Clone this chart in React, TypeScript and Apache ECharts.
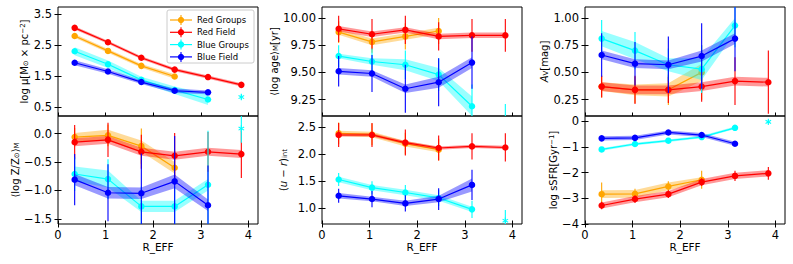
import React, { useEffect, useRef } from 'react';
import * as echarts from 'echarts';

// ---------------- data ----------------
const R_EFF = [0.35, 1.05, 1.75, 2.45, 3.15, 3.85];
const STAR_R = 3.85;
const GROUPS = ['Red Groups', 'Red Field', 'Blue Groups', 'Blue Field'];
const COLORS = ['#ffa500', '#ff0000', '#00ffff', '#0000ff'];
const X_TICKS = [0, 1, 2, 3, 4];

// log mu [Msun pc^-2]  (order: Red Groups, Red Field, Blue Groups, Blue Field)
const muValues = [
  [2.79, 2.31, 1.83, 1.49],
  [3.05, 2.59, 2.09, 1.71, 1.47, 1.22],
  [2.3, 1.88, 1.38, 1.05, 0.75],
  [1.93, 1.65, 1.31, 1.03, 0.98],
];
const muErrors = [
  [0.04, 0.04, 0.04, 0.05],
  [0.04, 0.04, 0.04, 0.04, 0.04, 0.05],
  [0.05, 0.05, 0.05, 0.06, 0.08],
  [0.04, 0.04, 0.04, 0.05, 0.05],
];
const muBands = [
  [0.06, 0.06, 0.06, 0.07],
  [0.05, 0.05, 0.05, 0.05, 0.05, 0.05],
  [0.13, 0.12, 0.1, 0.12, 0.18],
  [0.08, 0.07, 0.06, 0.07, 0.06],
];
const muStar = [0.83, 0.08];
const muTicks = [0.5, 1.5, 2.5, 3.5];

// <log age>_M [yr]
const ageValues = [
  [9.87, 9.78, 9.83, 9.88],
  [9.9, 9.85, 9.89, 9.83, 9.84, 9.84],
  [9.65, 9.6, 9.57, 9.48, 9.19],
  [9.51, 9.49, 9.35, 9.41, 9.59],
];
const ageErrors = [
  [0.1, 0.1, 0.12, 0.12],
  [0.12, 0.14, 0.13, 0.13, 0.15, 0.15],
  [0.1, 0.12, 0.13, 0.15, 0.2],
  [0.14, 0.17, 0.22, 0.22, 0.24],
];
const ageBands = [
  [0.025, 0.03, 0.03, 0.03],
  [0.025, 0.025, 0.025, 0.025, 0.025, 0.025],
  [0.02, 0.03, 0.05, 0.06, 0.09],
  [0.03, 0.03, 0.04, 0.05, 0.05],
];
const ageStar = [9.0, 0.21];
const ageTicks = [9.25, 9.5, 9.75, 10.0];

// A_V [mag]
const avValues = [
  [0.37, 0.34, 0.34, 0.5],
  [0.37, 0.34, 0.34, 0.37, 0.42, 0.41],
  [0.81, 0.7, 0.57, 0.53, 0.93],
  [0.66, 0.58, 0.57, 0.65, 0.81],
];
const avErrors = [
  [0.1, 0.12, 0.14, 0.25],
  [0.1, 0.13, 0.12, 0.14, 0.22, 0.29],
  [0.17, 0.17, 0.15, 0.22, 0.2],
  [0.2, 0.2, 0.26, 0.3, 0.3],
];
const avBands = [
  [0.04, 0.05, 0.06, 0.08],
  [0.04, 0.04, 0.04, 0.04, 0.04, 0.04],
  [0.07, 0.08, 0.06, 0.1, 0.07],
  [0.04, 0.04, 0.04, 0.05, 0.05],
];
const avTicks = [0.25, 0.5, 0.75, 1.0];

// <log Z/Zsun>_M
const zValues = [
  [-0.06, -0.03, -0.22, -0.6],
  [-0.15, -0.11, -0.32, -0.39, -0.32, -0.36],
  [-0.71, -0.8, -1.28, -1.28, -0.9],
  [-0.81, -1.04, -1.05, -0.84, -1.26],
];
const zErrors = [
  [0.16, 0.19, 0.31, 0.3],
  [0.3, 0.3, 0.3, 0.4, 0.35, 0.42],
  [0.3, 0.35, 0.35, 0.35, 0.95],
  [0.45, 0.5, 0.7, 0.8, 0.7],
];
const zBands = [
  [0.07, 0.1, 0.1, 0.1],
  [0.07, 0.07, 0.07, 0.07, 0.07, 0.07],
  [0.13, 0.15, 0.1, 0.1, 0.1],
  [0.1, 0.1, 0.1, 0.12, 0.1],
];
const zStar = [0.09, 0.25];
const zTicks = [-1.5, -1.0, -0.5, 0.0];

// (u - r)_int
const urValues = [
  [2.38, 2.36, 2.19, 2.08],
  [2.35, 2.35, 2.21, 2.11, 2.14, 2.12],
  [1.53, 1.38, 1.29, 1.19, 0.98],
  [1.23, 1.17, 1.09, 1.17, 1.43],
];
const urErrors = [
  [0.2, 0.2, 0.2, 0.2],
  [0.22, 0.22, 0.24, 0.23, 0.24, 0.26],
  [0.12, 0.12, 0.14, 0.15, 0.16],
  [0.13, 0.15, 0.15, 0.2, 0.28],
];
const urBands = [
  [0.05, 0.05, 0.05, 0.05],
  [0.03, 0.03, 0.03, 0.03, 0.03, 0.03],
  [0.05, 0.05, 0.05, 0.05, 0.05],
  [0.05, 0.04, 0.05, 0.06, 0.12],
];
const urStar = [0.77, 0.2];
const urTicks = [1.0, 1.5, 2.0, 2.5];

// log sSFR [Gyr^-1]
const ssfrValues = [
  [-2.84, -2.83, -2.54, -2.28],
  [-3.28, -3.03, -2.84, -2.37, -2.13, -2.03],
  [-1.1, -0.89, -0.76, -0.62, -0.26],
  [-0.67, -0.65, -0.44, -0.54, -0.88],
];
const ssfrErrors = [
  [0.45, 0.2, 0.2, 0.35],
  [0.15, 0.15, 0.15, 0.15, 0.2, 0.25],
  [0.05, 0.05, 0.05, 0.05, 0.05],
  [0.05, 0.05, 0.05, 0.05, 0.05],
];
const ssfrBands = [
  [0.15, 0.15, 0.15, 0.1],
  [0.12, 0.12, 0.12, 0.12, 0.12, 0.12],
  [0.05, 0.05, 0.05, 0.05, 0.05],
  [0.08, 0.08, 0.08, 0.08, 0.08],
];
const ssfrStar = [-0.03, 0.06];
const ssfrTicks = [-4, -3, -2, -1, 0];

// ---------------- chart ----------------
const FONT = 'DejaVu Sans';

const RICH = {
  sub: { fontSize: 7, fontFamily: FONT, color: '#000', verticalAlign: 'bottom' },
  sup: { fontSize: 7, fontFamily: FONT, color: '#000', verticalAlign: 'top' },
  it: { fontSize: 10, fontFamily: FONT, color: '#000', fontStyle: 'italic' },
};

type Panel = {
  values: number[][];
  errors: number[][];
  bands: number[][];
  star: number[] | null;
  yMin: number;
  yMax: number;
  ticks: number[];
  dec: number;
  name: string;
  nameGap: number;
  left: number;
  top: number;
  bottomRow: boolean;
};

const COL_LEFT = [58, 322, 585];
const ROW_TOP = [7, 116];
const W = 200;
const H = [109, 108];

const panels: Panel[] = [
  { values: muValues, errors: muErrors, bands: muBands, star: muStar, yMin: 0.22, yMax: 3.72, ticks: muTicks, dec: 1,
    name: 'log μ[M{sub|⊙} × pc{sup|−2}]', nameGap: 28, left: COL_LEFT[0], top: ROW_TOP[0], bottomRow: false },
  { values: ageValues, errors: ageErrors, bands: ageBands, star: ageStar, yMin: 9.1, yMax: 10.1, ticks: ageTicks, dec: 2,
    name: '⟨log age⟩{sub|M}[yr]', nameGap: 35, left: COL_LEFT[1], top: ROW_TOP[0], bottomRow: false },
  { values: avValues, errors: avErrors, bands: avBands, star: null, yMin: 0.1, yMax: 1.1, ticks: avTicks, dec: 2,
    name: '{it|A}{sub|V}[mag]', nameGap: 25, left: COL_LEFT[2], top: ROW_TOP[0], bottomRow: false },
  { values: zValues, errors: zErrors, bands: zBands, star: zStar, yMin: -1.59, yMax: 0.31, ticks: zTicks, dec: 1,
    name: '⟨log Z/Z{sub|⊙}⟩{sub|M}', nameGap: 38, left: COL_LEFT[0], top: ROW_TOP[1], bottomRow: true },
  { values: urValues, errors: urErrors, bands: urBands, star: urStar, yMin: 0.71, yMax: 2.7, ticks: urTicks, dec: 1,
    name: '({it|u} − {it|r}){sub|int}', nameGap: 34, left: COL_LEFT[1], top: ROW_TOP[1], bottomRow: true },
  { values: ssfrValues, errors: ssfrErrors, bands: ssfrBands, star: ssfrStar, yMin: -4, yMax: 0.2, ticks: ssfrTicks, dec: 0,
    name: 'log sSFR[Gyr{sup|−1}]', nameGap: 25, left: COL_LEFT[2], top: ROW_TOP[1], bottomRow: true },
];

function fmt(v: number, dec: number) {
  const s = Math.abs(v).toFixed(dec);
  return (v < 0 && Math.abs(v) > 1e-9 ? '−' : '') + s;
}

function hexAlpha(hex: string, a: number) {
  const r = parseInt(hex.slice(1, 3), 16);
  const g = parseInt(hex.slice(3, 5), 16);
  const b = parseInt(hex.slice(5, 7), 16);
  return `rgba(${r},${g},${b},${a})`;
}

function buildOption() {
  const grid: any[] = [];
  const xAxis: any[] = [];
  const yAxis: any[] = [];
  const series: any[] = [];
  const tickStyle = { color: '#000', width: 1 };
  const labelStyle = { fontSize: 11.5, fontFamily: FONT, color: '#000' };

  panels.forEach((p, k) => {
    grid.push({
      left: p.left, top: p.top, width: W, height: p.bottomRow ? H[1] : H[0],
      show: true, borderColor: '#000', borderWidth: 1, backgroundColor: 'transparent', containLabel: false,
    });
    xAxis.push({
      gridIndex: k, type: 'value', min: 0, max: 4.2, position: 'bottom',
      offset: p.bottomRow ? -3.5 : 0,
      axisLine: { show: false, onZero: false }, splitLine: { show: false },
      axisTick: p.bottomRow
        ? { show: true, inside: false, length: 7, lineStyle: tickStyle, customValues: X_TICKS }
        : { show: true, inside: true, length: 3.5, lineStyle: tickStyle, customValues: X_TICKS },
      axisLabel: p.bottomRow
        ? { show: true, margin: 8, customValues: X_TICKS, formatter: (v: number) => fmt(v, 0), ...labelStyle }
        : { show: false },
      name: p.bottomRow ? 'R_EFF' : '',
      nameLocation: 'middle', nameGap: 20.5,
      nameTextStyle: { fontSize: 10.5, fontFamily: FONT, color: '#000' },
    });
    yAxis.push({
      gridIndex: k, type: 'value', min: p.yMin, max: p.yMax, offset: -3.5, position: 'left',
      axisLine: { show: false, onZero: false }, splitLine: { show: false },
      axisTick: { show: true, inside: false, length: 7, lineStyle: tickStyle, customValues: p.ticks },
      axisLabel: { show: true, margin: 9.5, customValues: p.ticks, formatter: (v: number) => fmt(v, p.dec), ...labelStyle },
      name: p.name, nameLocation: 'middle', nameRotate: 90, nameGap: p.nameGap + 3.5,
      nameTextStyle: { fontSize: 10, fontFamily: FONT, color: '#000', rich: RICH },
    });

    p.values.forEach((vals, g) => {
      const color = COLORS[g];
      const rows = vals.map((v, i) => [R_EFF[i], v - p.bands[g][i], v + p.bands[g][i]]);
      // shaded band
      series.push({
        type: 'custom', name: GROUPS[g], xAxisIndex: k, yAxisIndex: k, clip: true, z: 2 + g * 3,
        data: rows,
        encode: { x: 0, y: [1, 2] },
        renderItem: (params: any, api: any) => {
          if (params.dataIndex !== 0) return null;
          const n = params.dataInsideLength;
          const lower: number[][] = [];
          const upper: number[][] = [];
          for (let j = 0; j < n; j++) {
            lower.push(api.coord([api.value(0, j), api.value(1, j)]));
            upper.push(api.coord([api.value(0, j), api.value(2, j)]));
          }
          return {
            type: 'polygon',
            shape: { points: lower.concat(upper.reverse()) },
            style: { fill: hexAlpha(color, 0.4), stroke: 'none' },
          };
        },
        silent: true,
      });
      // error bars
      series.push({
        type: 'custom', name: GROUPS[g], xAxisIndex: k, yAxisIndex: k, clip: true, z: 3 + g * 3,
        data: vals.map((v, i) => [R_EFF[i], v, p.errors[g][i]]),
        encode: { x: 0, y: 1 },
        renderItem: (params: any, api: any) => {
          const x = api.value(0), y = api.value(1), e = api.value(2);
          const a = api.coord([x, y - e]);
          const b = api.coord([x, y + e]);
          return { type: 'line', shape: { x1: a[0], y1: a[1], x2: b[0], y2: b[1] }, style: { stroke: color, lineWidth: 1.1 } };
        },
        silent: true,
      });
      // line with markers
      series.push({
        type: 'line', name: GROUPS[g], xAxisIndex: k, yAxisIndex: k, z: 4 + g * 3,
        data: vals.map((v, i) => [R_EFF[i], v]),
        symbol: 'circle', symbolSize: 6.5, showSymbol: true,
        lineStyle: { color, width: 1.2 }, itemStyle: { color, borderWidth: 0 },
        silent: true,
      });
    });

    if (p.star) {
      series.push({
        type: 'custom', name: 'Blue Groups', xAxisIndex: k, yAxisIndex: k, clip: true, z: 20,
        data: [[STAR_R, p.star[0], p.star[1]]],
        encode: { x: 0, y: 1 },
        renderItem: (params: any, api: any) => {
          const x = api.value(0), y = api.value(1), e = api.value(2);
          const c = api.coord([x, y]);
          const a = api.coord([x, y - e]);
          const b = api.coord([x, y + e]);
          const s = 3.2;
          const color = COLORS[2];
          const st = { stroke: color, lineWidth: 1.1 };
          const arms = [90, 30, 150].map((deg) => {
            const r = (deg * Math.PI) / 180;
            const dx = Math.cos(r) * s, dy = Math.sin(r) * s;
            return { type: 'line', shape: { x1: c[0] - dx, y1: c[1] - dy, x2: c[0] + dx, y2: c[1] + dy }, style: st };
          });
          return {
            type: 'group',
            children: [
              { type: 'line', shape: { x1: a[0], y1: a[1], x2: b[0], y2: b[1] }, style: st },
              ...arms,
            ],
          };
        },
        silent: true,
      });
    }
  });

  // legend (top-left panel)
  const legendChildren: any[] = [
    { type: 'rect', shape: { x: 0, y: 0, width: 87, height: 53, r: 2 }, style: { fill: 'rgba(255,255,255,0.85)', stroke: '#cccccc', lineWidth: 1 } },
  ];
  GROUPS.forEach((g, i) => {
    const y = 10 + i * 12.3;
    legendChildren.push(
      { type: 'line', shape: { x1: 3, y1: y, x2: 25, y2: y }, style: { stroke: COLORS[i], lineWidth: 1.2 } },
      { type: 'line', shape: { x1: 14, y1: y - 5, x2: 14, y2: y + 5 }, style: { stroke: COLORS[i], lineWidth: 1.1 } },
      { type: 'circle', shape: { cx: 14, cy: y, r: 3.2 }, style: { fill: COLORS[i] } },
      { type: 'text', x: 30, y, style: { text: g, fontSize: 8.5, fontFamily: FONT, fill: '#000', verticalAlign: 'middle', align: 'left' } },
    );
  });

  return {
    animation: false,
    backgroundColor: '#fff',
    grid, xAxis, yAxis, series,
    graphic: [{ type: 'group', x: 167, y: 10, z: 100, children: legendChildren }],
  };
}

export default function App() {
  const ref = useRef<HTMLDivElement>(null);
  useEffect(() => {
    if (!ref.current) return;
    const chart = echarts.init(ref.current, undefined, { renderer: 'svg' });
    chart.setOption(buildOption() as any);
    return () => chart.dispose();
  }, []);
  return <div ref={ref} style={{ position: 'fixed', left: 0, top: 0, width: 793, height: 264, background: '#fff' }} />;
}
